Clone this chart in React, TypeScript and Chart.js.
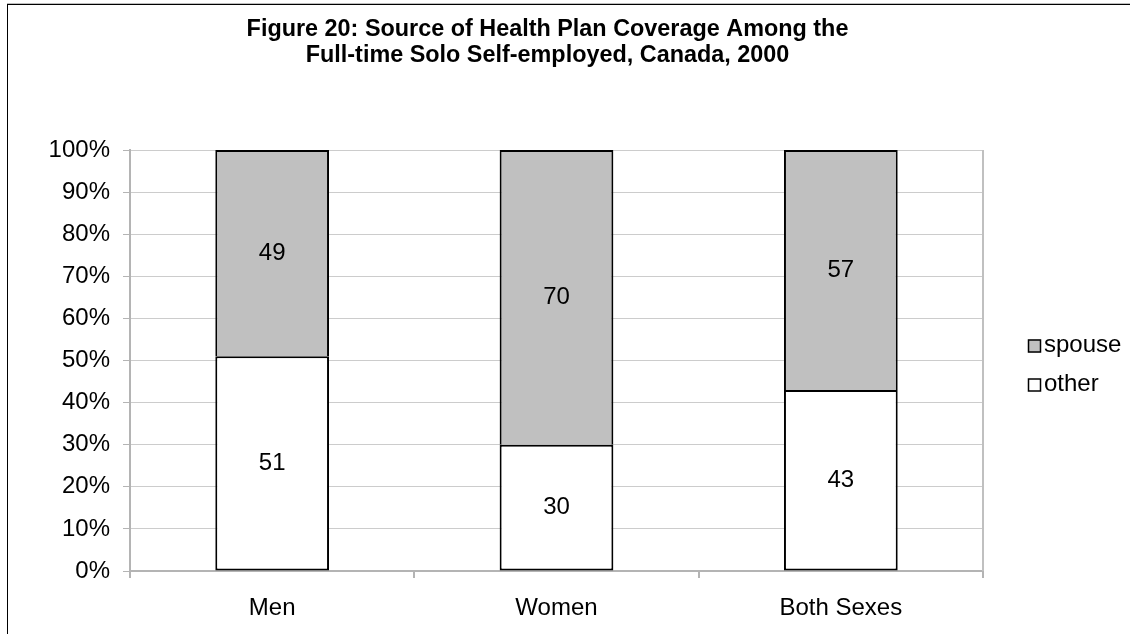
import { useEffect, useRef } from "react";
import { Chart, registerables } from "chart.js";

Chart.register(...registerables);

const FONT = "'Liberation Sans', Arial, Helvetica, sans-serif";

const titleLines = [
  "Figure 20: Source of Health Plan Coverage Among the",
  "Full-time Solo Self-employed, Canada, 2000",
];
const categories = ["Men", "Women", "Both Sexes"];
const seriesNames = ["other", "spouse"];
const otherValues = [51, 30, 43];
const spouseValues = [49, 70, 57];
const seriesColors = ["#ffffff", "#c0c0c0"];
const yMin = 0;
const yMax = 100;
const yStep = 10;

// White page, plus the outer frame lines along the top and left edges.
const framePlugin = {
  id: "frame",
  beforeDraw(chart: any) {
    const { ctx, width, height } = chart;
    ctx.save();
    ctx.fillStyle = "#ffffff";
    ctx.fillRect(0, 0, width, height);
    ctx.fillStyle = "#bdbdbd";
    ctx.fillRect(7, 3, width - 7, 1);
    ctx.fillStyle = "#000000";
    ctx.fillRect(7, 4, width - 7, 1);
    ctx.fillRect(7, 4, 1, height - 4);
    ctx.restore();
  },
};

// Two-line bold heading centred above the plot.
const headingPlugin = {
  id: "heading",
  afterDraw(chart: any) {
    const { ctx } = chart;
    ctx.save();
    ctx.font = `bold 23.4px ${FONT}`;
    ctx.fillStyle = "#000000";
    ctx.textAlign = "center";
    ctx.textBaseline = "middle";
    titleLines.forEach((line, i) => ctx.fillText(line, 547.5, 30 + i * 26));
    ctx.restore();
  },
};

// Grey line closing the plot area on the right.
const plotEdgePlugin = {
  id: "plotEdge",
  beforeDatasetsDraw(chart: any) {
    const { ctx, chartArea } = chart;
    ctx.save();
    ctx.strokeStyle = "#c0c0c0";
    ctx.lineWidth = 2;
    ctx.beginPath();
    ctx.moveTo(chartArea.right, chartArea.top);
    ctx.lineTo(chartArea.right, chartArea.bottom);
    ctx.stroke();
    ctx.restore();
  },
};

// Value written in the middle of every stacked segment.
const segmentLabelPlugin = {
  id: "segmentLabels",
  afterDatasetsDraw(chart: any) {
    const { ctx } = chart;
    ctx.save();
    ctx.font = `24px ${FONT}`;
    ctx.fillStyle = "#000000";
    ctx.textAlign = "center";
    ctx.textBaseline = "middle";
    chart.data.datasets.forEach((ds: any, di: number) => {
      const meta = chart.getDatasetMeta(di);
      meta.data.forEach((bar: any, i: number) => {
        const { x, y, base } = bar.getProps(["x", "y", "base"], true);
        ctx.fillText(String(ds.data[i]), x, (y + base) / 2);
      });
    });
    ctx.restore();
  },
};

// Legend at the right, top series listed first.
const sideLegendPlugin = {
  id: "sideLegend",
  afterDraw(chart: any) {
    const { ctx } = chart;
    const datasets = chart.data.datasets.slice().reverse();
    const boxX = 1028;
    const textX = 1044;
    const firstBaseline = 352;
    const rowGap = 39;
    const box = 13;
    ctx.save();
    ctx.font = `24px ${FONT}`;
    ctx.textAlign = "left";
    ctx.textBaseline = "alphabetic";
    datasets.forEach((ds: any, i: number) => {
      const baseline = firstBaseline + i * rowGap;
      const top = baseline - 6 - box / 2;
      ctx.fillStyle = ds.backgroundColor;
      ctx.fillRect(boxX, top, box, box);
      ctx.strokeStyle = "#000000";
      ctx.lineWidth = 1.5;
      ctx.strokeRect(boxX + 0.5, top + 0.5, box - 1, box - 1);
      ctx.fillStyle = "#000000";
      ctx.fillText(ds.label, textX, baseline);
    });
    ctx.restore();
  },
};

export default function App() {
  const canvasRef = useRef<HTMLCanvasElement | null>(null);

  useEffect(() => {
    const canvas = canvasRef.current;
    if (!canvas) return;
    const chart = new Chart(canvas, {
      type: "bar",
      data: {
        labels: categories,
        datasets: [
          {
            label: seriesNames[0],
            data: otherValues,
            backgroundColor: seriesColors[0],
            borderColor: "#000000",
            borderWidth: 2,
            borderSkipped: false,
            barPercentage: 0.4,
            categoryPercentage: 1,
          },
          {
            label: seriesNames[1],
            data: spouseValues,
            backgroundColor: seriesColors[1],
            borderColor: "#000000",
            borderWidth: 2,
            borderSkipped: "start",
            barPercentage: 0.4,
            categoryPercentage: 1,
          },
        ],
      },
      options: {
        responsive: false,
        animation: false,
        devicePixelRatio: 1,
        layout: { padding: { left: 0, right: 147, top: 150, bottom: 0 } },
        plugins: {
          legend: { display: false },
          tooltip: { enabled: false },
          title: { display: false },
        },
        scales: {
          x: {
            stacked: true,
            grid: {
              display: true,
              drawOnChartArea: false,
              drawTicks: true,
              tickLength: 7,
              offset: true,
              color: "#b4b4b4",
              lineWidth: 2,
            },
            border: { display: true, color: "#b4b4b4", width: 2 },
            ticks: {
              color: "#000000",
              font: { family: FONT, size: 24 },
              padding: 16,
              maxRotation: 0,
            },
            afterFit(axis: any) {
              axis.height = 63;
            },
          },
          y: {
            stacked: true,
            min: yMin,
            max: yMax,
            grid: {
              color: "#cccccc",
              lineWidth: 1,
              tickLength: 7,
              tickColor: "#b4b4b4",
            },
            border: { display: true, color: "#b4b4b4", width: 2 },
            ticks: {
              stepSize: yStep,
              color: "#000000",
              font: { family: FONT, size: 24 },
              padding: 13,
              callback: (v: any) => `${v}%`,
            },
            afterFit(axis: any) {
              axis.width = 130;
            },
          },
        },
      },
      plugins: [framePlugin, headingPlugin, plotEdgePlugin, segmentLabelPlugin, sideLegendPlugin],
    });
    return () => chart.destroy();
  }, []);

  return (
    <div style={{ position: "absolute", left: 0, top: 0, width: 1130, height: 634, background: "#ffffff" }}>
      <canvas ref={canvasRef} width={1130} height={634} style={{ display: "block" }} />
    </div>
  );
}
